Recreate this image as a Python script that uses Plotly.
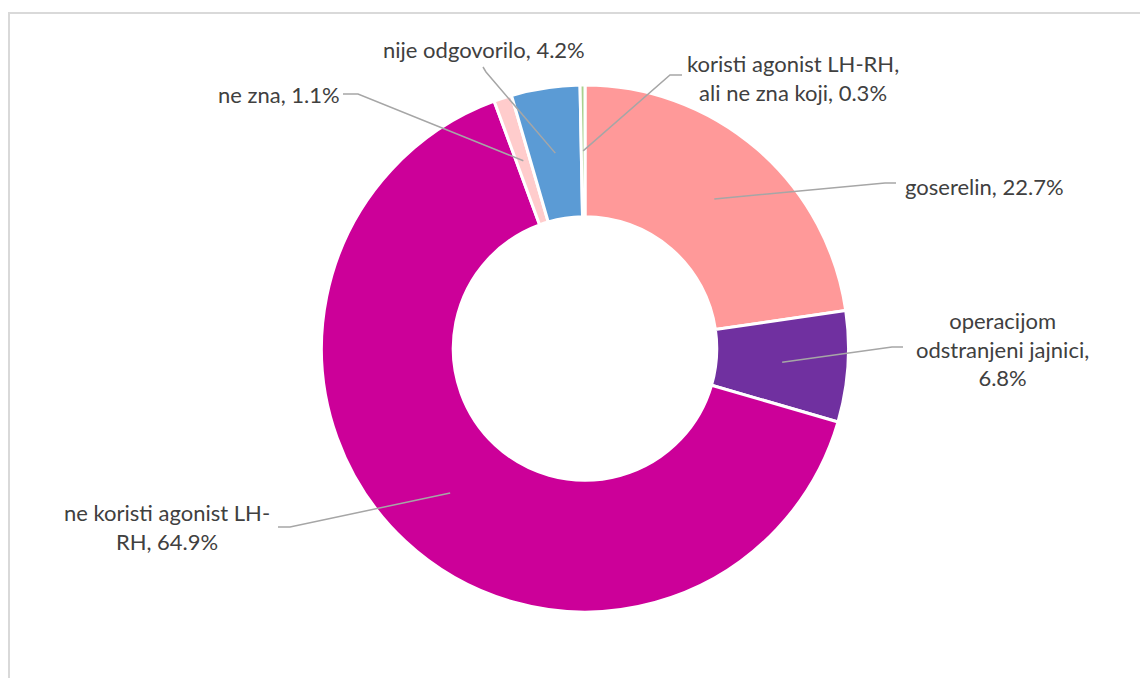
import math
import plotly.graph_objects as go

# ---- data ----
categories = ["goserelin", "operacijom odstranjeni jajnici", "ne koristi agonist LH-RH",
              "ne zna", "nije odgovorilo", "koristi agonist LH-RH, ali ne zna koji"]
values = [22.7, 6.8, 64.9, 1.1, 4.2, 0.3]
label_texts = ["goserelin, 22.7%",
               "operacijom<br>odstranjeni jajnici,<br>6.8%",
               "ne koristi agonist LH-<br>RH, 64.9%",
               "ne zna, 1.1%",
               "nije odgovorilo, 4.2%",
               "koristi agonist LH-RH,<br>ali ne zna koji, 0.3%"]
colors = ["#FF9999", "#7030A0", "#CC0099", "#FFCCCC", "#5B9BD5", "#A9D18E"]

# ---- layout / style (pixels, in window coordinates) ----
W, H = 1148, 678
OFF = 8  # page body margin
CX, CY, R_OUT = 585, 348.5, 263.5
HOLE = 0.5
# label text centre, and leader-line end (elbow start, elbow end)
label_pos = [(984, 186), (1002, 349), (167, 527), (279, 95), (484, 50), (793, 78)]
elbow = [((885, 183), (896, 183)), ((892, 347), (903, 347)), ((290, 527), (278, 527)),
         ((358, 94), (343, 94)), ((486, 72), (483, 67)), ((670, 75), (682, 75))]

def px(x):
    return (x - OFF) / W

def py(y):
    return 1 - (y - OFF) / H

fig = go.Figure(go.Pie(
    labels=categories, values=values, sort=False, direction="clockwise", rotation=0,
    hole=HOLE, textinfo="none", hoverinfo="label+percent",
    marker=dict(colors=colors, line=dict(color="white", width=3)),
    domain=dict(x=[px(CX - R_OUT), px(CX + R_OUT)], y=[py(CY + R_OUT), py(CY - R_OUT)]),
    showlegend=False,
))

total = sum(values)
r_mid = R_OUT * (1 + HOLE) / 2
shapes = [dict(type="rect", xref="paper", yref="paper", x0=px(9), x1=px(W + 40),
               y0=py(H + 40), y1=py(13), line=dict(color="#D9D9D9", width=2), layer="below")]
annotations = []
cum = 0
for i, v in enumerate(values):
    mid = (cum + v / 2) / total * 2 * math.pi
    cum += v
    ax = CX + r_mid * math.sin(mid)
    ay = CY - r_mid * math.cos(mid)
    (e1x, e1y), (e2x, e2y) = elbow[i]
    path = f"M {px(ax)},{py(ay)} L {px(e1x)},{py(e1y)} L {px(e2x)},{py(e2y)}"
    shapes.append(dict(type="path", xref="paper", yref="paper", path=path,
                       line=dict(color="#A6A6A6", width=1.5)))
    tx, ty = label_pos[i]
    annotations.append(dict(x=px(tx), y=py(ty), xref="paper", yref="paper",
                            text=label_texts[i], showarrow=False, xanchor="center",
                            yanchor="middle", align="center",
                            font=dict(family="Lato", size=22, color="#404040")))

fig.update_layout(width=W, height=H, margin=dict(l=0, r=0, t=0, b=0),
                  paper_bgcolor="white", plot_bgcolor="white",
                  shapes=shapes, annotations=annotations)
fig.write_html("out.html")
